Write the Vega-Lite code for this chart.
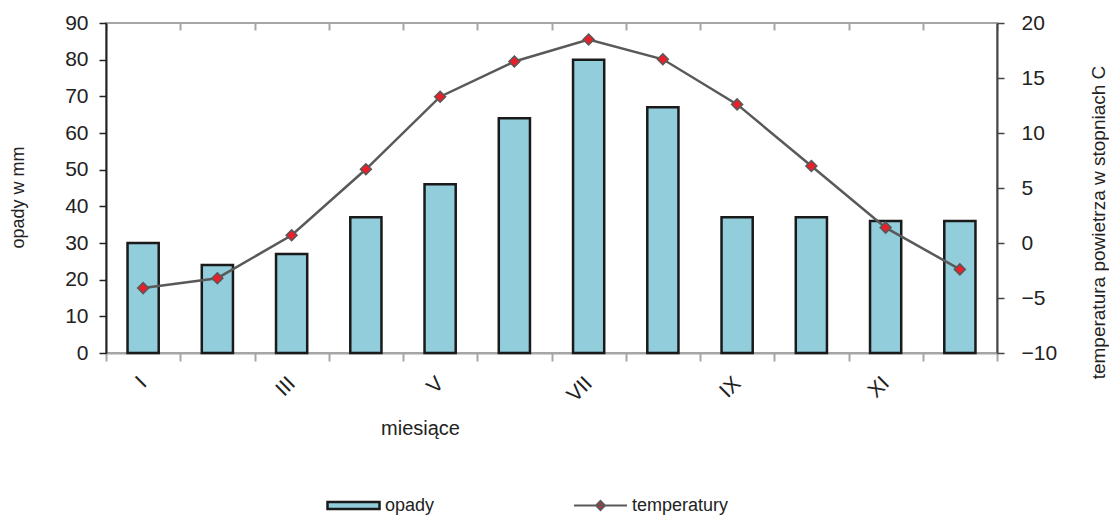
{
  "$schema": "https://vega.github.io/schema/vega-lite/v6.json",
  "width": 891,
  "height": 330,
  "autosize": {"type": "none"},
  "padding": {"left": 106, "top": 23, "right": 112, "bottom": 165},
  "background": "white",
  "config": {
    "font": "Liberation Sans",
    "view": {"stroke": "#a6a6a6", "strokeWidth": 2},
    "axis": {"grid": false, "labelColor": "#222222", "titleColor": "#222222", "titleFontWeight": "normal", "labelFont": "Liberation Sans", "titleFont": "Liberation Sans"},
    "legend": {"labelFont": "Liberation Sans", "labelColor": "#222222", "labelFontSize": 18, "padding": 0}
  },
  "data": {
    "values": [
      {"miesiac": "I", "opady": 30, "temp": -4.1},
      {"miesiac": "II", "opady": 24, "temp": -3.2},
      {"miesiac": "III", "opady": 27, "temp": 0.7},
      {"miesiac": "IV", "opady": 37, "temp": 6.7},
      {"miesiac": "V", "opady": 46, "temp": 13.3},
      {"miesiac": "VI", "opady": 64, "temp": 16.5},
      {"miesiac": "VII", "opady": 80, "temp": 18.5},
      {"miesiac": "VIII", "opady": 67, "temp": 16.7},
      {"miesiac": "IX", "opady": 37, "temp": 12.6},
      {"miesiac": "X", "opady": 37, "temp": 7.0},
      {"miesiac": "XI", "opady": 36, "temp": 1.4},
      {"miesiac": "XII", "opady": 36, "temp": -2.4}
    ]
  },
  "layer": [
    {
      "mark": {"type": "bar", "width": {"band": 0.42}, "stroke": "#1a1a1a", "strokeWidth": 2.5},
      "encoding": {
        "x": {
          "field": "miesiac", "type": "ordinal", "sort": null,
          "scale": {"paddingInner": 0, "paddingOuter": 0},
          "axis": {
            "title": "miesiące", "titleFontSize": 20, "titleX": 314, "titleY": 75, "titleBaseline": "middle", "titleAlign": "center",
            "labelAngle": -45, "labelAlign": "right", "labelBaseline": "middle", "labelFontSize": 21, "labelPadding": 19,
            "labelExpr": "indexof(['I','III','V','VII','IX','XI'], datum.value) >= 0 ? datum.value : ''",
            "labelOverlap": false, "labelBound": false,
            "tickBand": "extent", "tickSize": 8, "tickColor": "#a6a6a6", "tickWidth": 2,
            "domainColor": "#a6a6a6", "domainWidth": 2
          }
        },
        "y": {
          "field": "opady", "type": "quantitative",
          "scale": {"domain": [0, 90], "nice": false},
          "axis": {
            "title": "opady w mm", "titleFontSize": 18, "titleAngle": -90, "titleX": -88, "titleY": 174, "titleBaseline": "middle", "titleAlign": "center",
            "values": [0, 10, 20, 30, 40, 50, 60, 70, 80, 90],
            "labelFontSize": 21, "labelPadding": 11, "tickSize": 7, "tickColor": "#222222", "tickWidth": 1.5,
            "domainColor": "#222222", "domainWidth": 2
          }
        },
        "fill": {
          "datum": "opady",
          "scale": {"range": ["#92CDDC"]},
          "legend": {
            "orient": "none", "legendX": 220, "legendY": 455, "title": null,
            "symbolType": "M-1,-0.135H1V0.135H-1Z", "symbolSize": 2704,
            "symbolStrokeColor": "#1a1a1a", "symbolStrokeWidth": 2.5,
            "encode": {"symbols": {"update": {"stroke": {"value": "#1a1a1a"}, "strokeWidth": {"value": 2.5}}}}
          }
        }
      }
    },
    {
      "mark": {"type": "line", "strokeWidth": 2.5, "point": {"shape": "diamond", "filled": true, "fill": "#E8202A", "stroke": "#595959", "strokeWidth": 1.5, "size": 120}},
      "encoding": {
        "x": {
          "field": "miesiac", "type": "ordinal", "sort": null,
          "axis": {"title": null, "labels": false, "domain": false, "tickBand": "extent", "tickSize": -7, "tickColor": "#a6a6a6", "tickWidth": 2}
        },
        "y": {
          "field": "temp", "type": "quantitative",
          "scale": {"domain": [-10, 20], "nice": false, "zero": false},
          "axis": {
            "orient": "right",
            "title": "temperatura powietrza w stopniach C", "titleFontSize": 19, "titleAngle": -90, "titleX": 101, "titleY": 199, "titleBaseline": "middle", "titleAlign": "center",
            "values": [-10, -5, 0, 5, 10, 15, 20],
            "labelFontSize": 21, "labelPadding": 17, "tickSize": 7, "tickColor": "#444444", "tickWidth": 1.5,
            "domainColor": "#444444", "domainWidth": 2
          }
        },
        "stroke": {
          "datum": "temperatury",
          "scale": {"range": ["#595959"]},
          "legend": {
            "orient": "none", "legendX": 467, "legendY": 455, "title": null,
            "symbolType": "M-1,0H1M0,-0.17L0.17,0L0,0.17L-0.17,0Z", "symbolSize": 2809,
            "symbolFillColor": "#E8202A", "symbolStrokeWidth": 2,
            "encode": {"symbols": {"update": {"fill": {"value": "#E8202A"}, "stroke": {"value": "#595959"}, "strokeWidth": {"value": 2}}}}
          }
        }
      }
    }
  ],
  "resolve": {"scale": {"y": "independent"}, "axis": {"x": "independent"}}
}
